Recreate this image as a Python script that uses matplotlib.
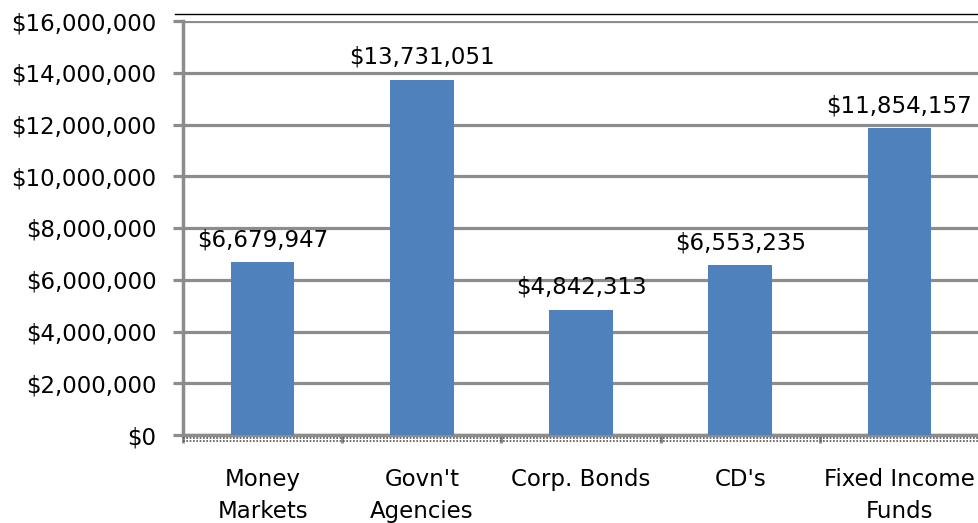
import numpy as np
import matplotlib.pyplot as plt
from matplotlib.ticker import FuncFormatter, FixedLocator
from matplotlib.lines import Line2D
from matplotlib.transforms import ScaledTranslation

categories = ["Money\nMarkets", "Govn't\nAgencies", "Corp. Bonds", "CD's", "Fixed Income\nFunds"]
values = [6679947, 13731051, 4842313, 6553235, 11854157]
yticks = [0, 2000000, 4000000, 6000000, 8000000, 10000000, 12000000, 14000000, 16000000]

BLUE = "#4F81BD"
GRAY = "#8C8C8C"
FS = 16.5

plt.rcParams['font.family'] = ['DejaVu Sans']

fig = plt.figure(figsize=(9.79, 5.23), dpi=100)
ax = fig.add_axes([183 / 979, 1 - 435 / 523, 796 / 979, 414 / 523])

x = np.arange(len(categories))
ax.bar(x, values, width=0.4, color=BLUE, zorder=3)

for xi, v in zip(x, values):
    ax.annotate("${:,.0f}".format(v), (xi, v), xytext=(0, 8),
                textcoords="offset points", ha="center", va="bottom",
                fontsize=FS, color="black")

ax.set_xlim(-0.5, len(categories) - 0.5)
ax.set_ylim(0, 16000000)
ax.set_yticks(yticks)
ax.yaxis.set_major_formatter(FuncFormatter(lambda v, p: "${:,.0f}".format(v)))
ax.grid(axis="y", color=GRAY, linewidth=2.3, zorder=0)

ax.set_xticks(x)
ax.set_xticklabels(categories, fontsize=FS, linespacing=1.5)
ax.xaxis.set_minor_locator(FixedLocator(np.arange(len(categories) + 1) - 0.5))
ax.tick_params(axis="x", which="major", length=0, pad=24)
ax.tick_params(axis="x", which="minor", length=6, width=2, color=GRAY, direction="out")
ax.tick_params(axis="y", length=7, width=2.3, color=GRAY, labelsize=FS, pad=12)

for s in ["top", "right"]:
    ax.spines[s].set_visible(False)
ax.spines["left"].set_color(GRAY)
ax.spines["left"].set_linewidth(2.5)
ax.spines["bottom"].set_color(GRAY)
ax.spines["bottom"].set_linewidth(2.5)

# dotted floor band under the axis
for off in [3, 6]:
    ax.plot([0, 1], [0, 0], transform=ax.transAxes + ScaledTranslation(0, -off / 100, fig.dpi_scale_trans),
            clip_on=False, color="#555555", linestyle=(0, (1, 1)), linewidth=1.2, zorder=4)

# thin frame line at top
fig.add_artist(Line2D([175 / 979, 1], [1 - 14 / 523, 1 - 14 / 523],
                      transform=fig.transFigure, color="black", linewidth=1))

fig.savefig("out.png", dpi=100)
